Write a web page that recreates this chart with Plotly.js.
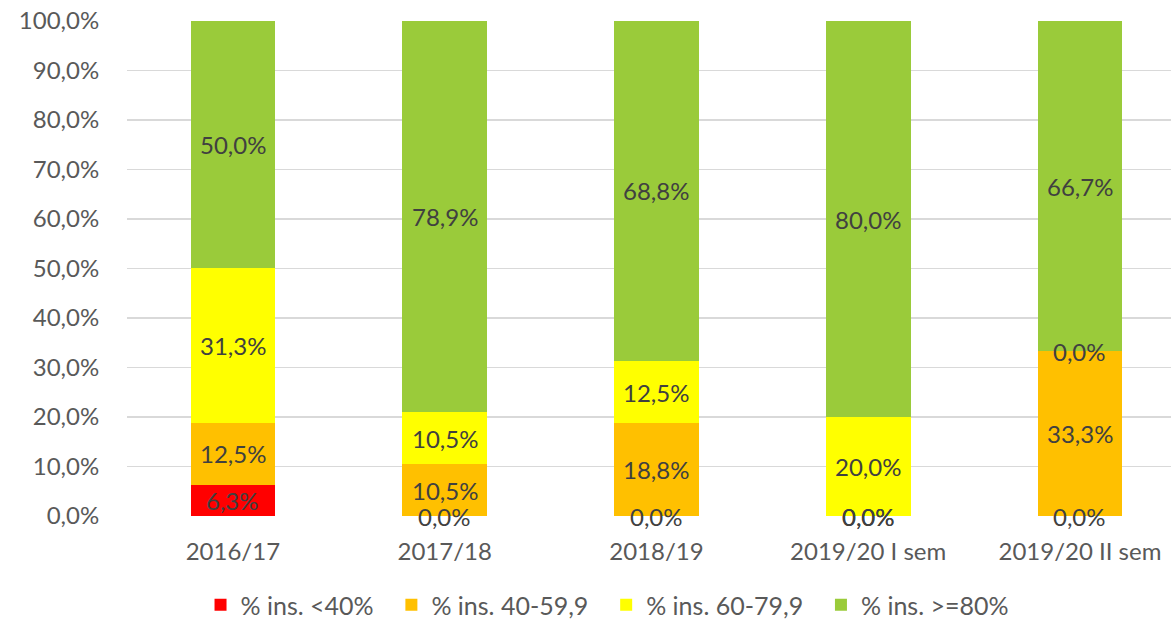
<!DOCTYPE html>
<html>
<head>
<meta charset="utf-8">
<script src="https://cdn.plot.ly/plotly-3.0.1.min.js"></script>
<style>html,body{margin:0;padding:0;background:#fff;overflow:hidden}#chart{width:1171px;height:640px}</style>
</head>
<body>
<div id="chart"></div>
<script>
const categories = ['2016/17', '2017/18', '2018/19', '2019/20 I sem', '2019/20 II sem'];
const seriesNames = ['% ins. <40%', '% ins. 40-59,9', '% ins. 60-79,9', '% ins. >=80%'];
const under40 = [6.3, 0.0, 0.0, 0.0, 0.0];
const from40to59 = [12.5, 10.5, 18.8, 0.0, 33.3];
const from60to79 = [31.3, 10.5, 12.5, 20.0, 0.0];
const over80 = [50.0, 78.9, 68.8, 80.0, 66.7];
const yTickValues = [0, 10, 20, 30, 40, 50, 60, 70, 80, 90, 100];
const yTickLabels = ['0,0%', '10,0%', '20,0%', '30,0%', '40,0%', '50,0%', '60,0%', '70,0%', '80,0%', '90,0%', '100,0%'];
const colors = ['#FF0000', '#FFC000', '#FFFF00', '#9ACB3A'];

const series = [under40, from40to59, from60to79, over80];
const fmt = v => v.toFixed(1).replace('.', ',') + '%';
const FONT = 'Lato, "Open Sans", sans-serif';
const NBSP = '\u00a0\u00a0';

const traces = [];
series.forEach((vals, i) => {
  traces.push({
    type: 'bar', x: categories, y: vals,
    name: seriesNames[i] + (i < series.length - 1 ? NBSP : ''),
    marker: {color: colors[i], line: {width: 0}},
    hoverinfo: 'skip'
  });
});
// data labels: centre of each stacked segment
const annotations = [];
const base = categories.map(() => 0);
series.forEach((vals) => {
  vals.forEach((v, j) => {
    annotations.push({
      xref: 'x', yref: 'y', x: categories[j], y: base[j] + v / 2,
      text: fmt(v), showarrow: false,
      font: {family: FONT, size: 24, color: '#404040'}
    });
    base[j] += v;
  });
});

const layout = {
  width: 1171, height: 640,
  margin: {l: 127, r: 0, t: 21, b: 124},
  paper_bgcolor: '#fff', plot_bgcolor: '#fff',
  barmode: 'stack', bargap: 0.6,
  font: {family: FONT, color: '#595959', size: 24},
  annotations: annotations,
  xaxis: {
    type: 'category', range: [-0.5, 4.43],
    showgrid: false, zeroline: false, showline: false,
    ticks: 'outside', ticklen: 14, tickcolor: 'rgba(0,0,0,0)',
    tickfont: {family: FONT, size: 24, color: '#595959'}
  },
  yaxis: {
    range: [0, 100], tickvals: yTickValues, ticktext: yTickLabels,
    showgrid: true, gridcolor: '#D9D9D9', gridwidth: 1.3,
    zeroline: false, showline: false,
    ticks: 'outside', ticklen: 22, tickcolor: 'rgba(0,0,0,0)',
    tickfont: {family: FONT, size: 24, color: '#595959'}
  },
  showlegend: true,
  legend: {
    orientation: 'h', x: 0.4598, xanchor: 'center', y: -0.1798, yanchor: 'middle',
    font: {family: FONT, size: 25, color: '#595959'},
    itemwidth: 30, traceorder: 'normal', bgcolor: 'rgba(0,0,0,0)'
  }
};

Plotly.newPlot('chart', traces, layout, {displayModeBar: false, staticPlot: true});
</script>
</body>
</html>
